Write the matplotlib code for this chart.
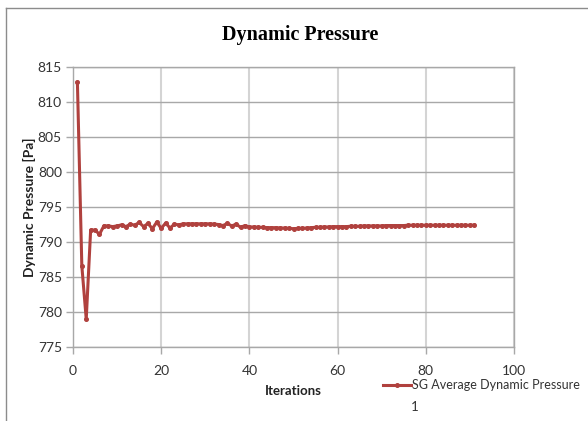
import matplotlib
matplotlib.use("Agg")
import matplotlib.pyplot as plt
from matplotlib.lines import Line2D

iterations = list(range(1, 92))
pressure = [
    812.8, 786.6, 779.0, 791.7, 791.7, 791.1, 792.3, 792.3, 792.2, 792.3,
    792.45, 792.2, 792.55, 792.4, 792.8, 792.2, 792.65, 791.9, 792.85, 791.95,
    792.7, 792.0, 792.55, 792.45, 792.6, 792.6, 792.6, 792.6, 792.6, 792.6,
    792.6, 792.55, 792.5, 792.35, 792.65, 792.3, 792.55, 792.1, 792.35, 792.15,
    792.15, 792.1, 792.1, 792.05, 792.05, 792.05, 792.0, 792.0, 791.95, 791.9,
    791.95, 791.95, 792.0, 792.05, 792.1, 792.1, 792.15, 792.15, 792.2, 792.2,
    792.2, 792.2, 792.25, 792.25, 792.25, 792.3, 792.3, 792.3, 792.3, 792.3,
    792.35, 792.35, 792.35, 792.35, 792.35, 792.4, 792.4, 792.4, 792.4, 792.4,
    792.4, 792.4, 792.4, 792.4, 792.4, 792.4, 792.4, 792.4, 792.4, 792.4,
    792.4,
]
x_ticks = [0, 20, 40, 60, 80, 100]
y_ticks = [775, 780, 785, 790, 795, 800, 805, 810, 815]

W, H = 588, 421
fig = plt.figure(figsize=(W / 100, H / 100), dpi=100)
fig.patch.set_facecolor("white")

ax = fig.add_axes([73 / W, 1 - 347 / H, (514 - 73) / W, (347 - 67) / H])
color = "#B0413E"
ax.plot(iterations, pressure, color=color, lw=2.2, marker="o", ms=2.6,
        mec=color, mfc=color, label="SG Average Dynamic Pressure", zorder=3)

ax.set_xlim(0, 100)
ax.set_ylim(775, 815)
ax.set_xticks(x_ticks)
ax.set_yticks(y_ticks)

for y in y_ticks:
    ax.axhline(y, color="#A8A8A8", lw=1.0, zorder=1)
for x in x_ticks:
    ax.axvline(x, color="#D4D4D4", lw=1.5, zorder=0)

for s in ax.spines.values():
    s.set_color("#A8A8A8")
    s.set_linewidth(1.0)

ax.tick_params(axis="both", colors="#A8A8A8", labelcolor="#333333", length=5, width=1)
ax.tick_params(axis="y", pad=3)
ax.tick_params(axis="x", pad=8)
for lab in ax.get_xticklabels() + ax.get_yticklabels():
    lab.set_fontfamily("Lato")
    lab.set_fontsize(10)

ax.set_xlabel("Iterations", family="Lato", fontsize=9.5, fontweight="bold", labelpad=6, color="#222222")
ax.set_ylabel("Dynamic Pressure [Pa]", family="Lato", fontsize=10, fontweight="bold", labelpad=1.5, color="#222222")

fig.text(300 / W, 1 - 35 / H, "Dynamic Pressure", family="Liberation Serif",
         fontsize=14.5, fontweight="bold", ha="center", va="center")

leg = ax.legend(loc="center left", bbox_to_anchor=(383 / W, 1 - 385 / H),
                bbox_transform=fig.transFigure, frameon=False,
                prop=dict(family="Lato", size=9), handlelength=2.2,
                handletextpad=0.1, borderpad=0, borderaxespad=0)
for t in leg.get_texts():
    t.set_color("#333333")
fig.text(411 / W, 1 - 407 / H, "1", family="Lato", fontsize=9.5, ha="left", va="center", color="#333333")

# outer chart border (left and top only visible)
fig.add_artist(Line2D([6 / W, 6 / W], [0, 1 - 8 / H], transform=fig.transFigure, color="#8C8C8C", lw=1))
fig.add_artist(Line2D([6 / W, 1], [1 - 8 / H, 1 - 8 / H], transform=fig.transFigure, color="#8C8C8C", lw=1))

fig.savefig("out.png", dpi=100)
